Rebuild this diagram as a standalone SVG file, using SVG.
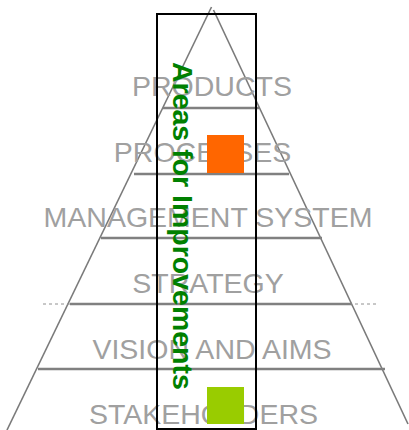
<svg xmlns="http://www.w3.org/2000/svg" width="409" height="430" viewBox="0 0 409 430">
<style>
.lbl{font-family:"Liberation Sans",Arial,sans-serif;font-size:28.5px;fill:#a0a0a0;text-anchor:middle}
.edge{stroke:#7a7a7a;stroke-width:1.6;fill:none}
.tier{stroke:#808080;stroke-width:2.4;fill:none}
</style>
<rect width="409" height="430" fill="#ffffff"/>
<g id="connectors">
<line class="edge" x1="211.5" y1="7" x2="7" y2="430"/>
<line class="edge" x1="213.5" y1="10" x2="408" y2="424"/>
<line class="tier" x1="163" y1="108" x2="259" y2="108"/>
<line class="tier" x1="134" y1="174" x2="289" y2="174"/>
<line class="tier" x1="101" y1="238" x2="322" y2="238"/>
<line x1="43" y1="304" x2="376" y2="304" stroke="#909090" stroke-width="1" stroke-dasharray="3,3"/>
<line class="tier" x1="70" y1="304" x2="352" y2="304"/>
<line class="tier" x1="38" y1="369" x2="385" y2="369"/>
</g>
<g id="products"><text class="lbl" x="212" y="96">PRODUCTS</text></g>
<g id="processes"><text class="lbl" x="202.5" y="162">PROCESSES</text></g>
<g id="management"><text class="lbl" x="208" y="227">MANAGEMENT SYSTEM</text></g>
<g id="strategy"><text class="lbl" x="208" y="293">STRATEGY</text></g>
<g id="vision"><text class="lbl" x="212" y="359">VISION AND AIMS</text></g>
<g id="stakeholders"><text class="lbl" x="203.5" y="424">STAKEHOLDERS</text></g>
<g id="areas">
<rect x="157" y="14" width="99" height="415" fill="none" stroke="#000000" stroke-width="2"/>
<text transform="translate(172.5,62) rotate(90)" font-family="'Liberation Sans',Arial,sans-serif" font-size="28.5" font-weight="bold" fill="#008000">Areas for Improvements</text>
</g>
<g id="orange-square"><rect x="207" y="135" width="37" height="38" fill="#ff6600"/></g>
<g id="green-square"><rect x="207" y="387" width="37" height="37" fill="#99cc00"/></g>
</svg>
